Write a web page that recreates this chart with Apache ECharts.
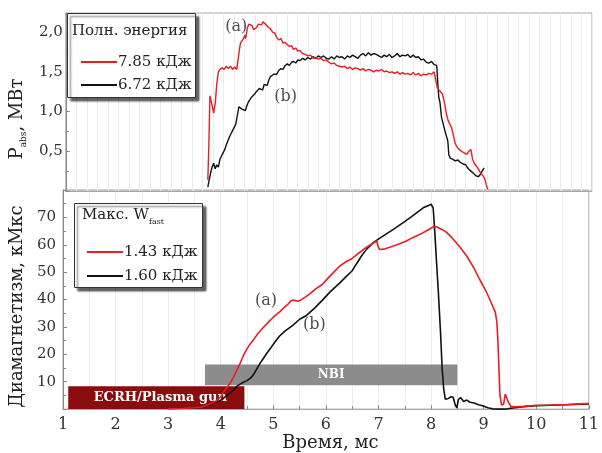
<!DOCTYPE html>
<html>
<head>
<meta charset="utf-8">
<script src="https://cdn.jsdelivr.net/npm/echarts@6/dist/echarts.min.js"></script>
<style>
  html, body { margin: 0; padding: 0; background: #fff; }
  #chart { width: 602px; height: 453px; }
</style>
</head>
<body>
<div id="chart"></div>
<script>
const FONT = "'DejaVu Serif', 'Liberation Serif', serif";

// Absorbed power P_abs (MW), shot (a): 7.85 kJ total energy
const powerTimeA = [3.70,3.72,3.74,3.76,3.79,3.81,3.84,3.87,3.90,3.93,3.97,4.01,4.05,4.09,4.13,4.17,4.21,4.25,4.28,4.30,4.32,4.35,4.38,4.40,4.42,4.45,4.48,4.51,4.54,4.57,4.60,4.63,4.66,4.69,4.72,4.75,4.78,4.81,4.85,4.89,4.93,4.97,5.01,5.05,5.09,5.13,5.17,5.21,5.25,5.29,5.33,5.37,5.41,5.45,5.50,5.55,5.60,5.65,5.70,5.75,5.80,5.85,5.90,5.95,6.00,6.05,6.10,6.15,6.20,6.25,6.30,6.35,6.40,6.45,6.50,6.55,6.60,6.65,6.70,6.75,6.80,6.85,6.90,6.95,7.00,7.05,7.10,7.15,7.20,7.25,7.30,7.35,7.40,7.45,7.50,7.55,7.60,7.65,7.70,7.75,7.80,7.85,7.90,7.95,8.00,8.03,8.06,8.09,8.12,8.16,8.20,8.24,8.27,8.30,8.33,8.36,8.40,8.44,8.48,8.52,8.57,8.62,8.66,8.70,8.73,8.77,8.82,8.87,8.92,8.96,8.99,9.02];
const powerA = [0.14,0.60,1.20,1.22,1.05,0.98,1.10,1.35,1.50,1.53,1.55,1.53,1.57,1.54,1.57,1.53,1.56,1.53,1.55,1.78,1.86,1.88,1.92,1.96,1.92,2.05,2.10,2.12,2.08,2.03,2.02,2.06,2.10,2.12,2.09,2.13,2.11,2.09,2.06,2.04,2.00,1.99,1.93,1.90,1.92,1.86,1.87,1.84,1.82,1.83,1.78,1.80,1.76,1.77,1.73,1.72,1.70,1.71,1.67,1.68,1.66,1.67,1.64,1.65,1.62,1.60,1.61,1.58,1.57,1.56,1.57,1.54,1.56,1.53,1.55,1.54,1.52,1.54,1.51,1.53,1.52,1.50,1.52,1.51,1.53,1.50,1.51,1.49,1.50,1.48,1.50,1.47,1.49,1.47,1.48,1.46,1.49,1.46,1.48,1.45,1.47,1.46,1.48,1.47,1.50,1.48,1.30,1.27,1.25,1.22,1.10,0.95,0.88,0.84,0.80,0.72,0.60,0.55,0.52,0.50,0.48,0.46,0.50,0.52,0.40,0.34,0.30,0.24,0.20,0.16,0.08,0.02];

// Absorbed power P_abs (MW), shot (b): 6.72 kJ total energy
const powerTimeB = [3.70,3.72,3.75,3.78,3.81,3.84,3.87,3.90,3.93,3.96,3.99,4.02,4.05,4.08,4.11,4.14,4.17,4.20,4.23,4.26,4.29,4.32,4.35,4.38,4.41,4.44,4.47,4.50,4.53,4.56,4.59,4.62,4.65,4.68,4.71,4.74,4.77,4.80,4.83,4.86,4.89,4.92,4.95,4.98,5.01,5.05,5.09,5.13,5.17,5.21,5.25,5.29,5.33,5.37,5.41,5.45,5.50,5.55,5.60,5.65,5.70,5.75,5.80,5.85,5.90,5.95,6.00,6.05,6.10,6.15,6.20,6.25,6.30,6.35,6.40,6.45,6.50,6.55,6.60,6.65,6.70,6.75,6.80,6.85,6.90,6.95,7.00,7.05,7.10,7.15,7.20,7.25,7.30,7.35,7.40,7.45,7.50,7.55,7.60,7.65,7.70,7.75,7.80,7.85,7.90,7.95,8.00,8.05,8.07,8.09,8.11,8.14,8.17,8.20,8.23,8.26,8.28,8.31,8.35,8.40,8.45,8.50,8.55,8.60,8.65,8.70,8.75,8.80,8.84,8.88,8.92,8.95];
const powerB = [0.05,0.12,0.22,0.30,0.35,0.28,0.33,0.30,0.40,0.44,0.48,0.52,0.58,0.63,0.68,0.72,0.76,0.80,0.84,0.95,1.06,1.08,1.03,1.05,1.01,1.07,1.12,1.15,1.18,1.16,1.22,1.25,1.23,1.29,1.30,1.27,1.34,1.35,1.33,1.40,1.44,1.42,1.47,1.49,1.47,1.52,1.54,1.53,1.58,1.60,1.58,1.62,1.63,1.61,1.65,1.64,1.67,1.65,1.68,1.66,1.69,1.67,1.70,1.68,1.70,1.67,1.66,1.69,1.66,1.70,1.68,1.69,1.66,1.70,1.68,1.71,1.69,1.67,1.71,1.73,1.70,1.74,1.71,1.73,1.72,1.70,1.68,1.71,1.69,1.72,1.68,1.70,1.73,1.69,1.71,1.70,1.72,1.68,1.71,1.68,1.69,1.65,1.66,1.62,1.61,1.63,1.59,1.58,1.35,1.17,1.12,0.93,0.85,0.77,0.70,0.63,0.45,0.41,0.40,0.38,0.39,0.36,0.34,0.33,0.28,0.25,0.22,0.19,0.18,0.21,0.26,0.29];

// Diamagnetic signal (kMx), shot (a): max W_fast 1.43 kJ
const diaTimeA = [3.00,3.30,3.50,3.62,3.75,3.85,3.93,4.00,4.05,4.12,4.18,4.24,4.30,4.37,4.43,4.50,4.56,4.62,4.70,4.80,4.88,4.96,5.04,5.12,5.20,5.28,5.33,5.37,5.42,5.47,5.52,5.60,5.69,5.80,5.93,6.05,6.15,6.25,6.38,6.50,6.63,6.78,6.90,6.97,6.99,7.02,7.10,7.20,7.35,7.53,7.65,7.80,7.95,8.05,8.10,8.20,8.29,8.40,8.55,8.68,8.80,8.92,9.04,9.14,9.22,9.25,9.27,9.29,9.31,9.34,9.38,9.41,9.44,9.47,9.52,9.60,9.80,10.00,10.30,10.60,10.80,11.00];
const diaA = [0.2,0.3,0.5,0.7,1.5,2.3,3.2,4.5,6.1,8.0,9.5,11.5,14.0,16.8,19.5,22.0,23.8,25.2,27.4,29.6,31.2,32.8,34.2,35.5,37.0,38.3,39.5,39.8,39.6,39.4,39.8,40.8,42.0,43.8,45.5,48.0,50.0,52.0,53.8,55.0,57.0,59.2,60.6,61.4,59.5,58.3,58.4,59.0,60.0,61.4,62.6,63.9,65.5,66.6,66.6,65.7,64.6,62.5,59.2,55.8,52.0,47.5,43.3,39.0,35.5,32.0,25.3,15.0,5.0,1.5,1.8,5.5,6.0,2.5,1.0,0.8,1.0,1.4,1.5,1.7,1.9,2.0];

// Diamagnetic signal (kMx), shot (b): max W_fast 1.60 kJ
const diaTimeB = [3.00,3.30,3.50,3.62,3.80,3.92,4.00,4.12,4.24,4.31,4.40,4.50,4.56,4.62,4.68,4.75,4.81,4.87,4.94,5.02,5.12,5.22,5.37,5.50,5.63,5.78,5.93,6.08,6.25,6.38,6.50,6.58,6.68,6.78,6.90,7.04,7.15,7.29,7.45,7.61,7.75,7.85,7.95,8.00,8.04,8.07,8.10,8.14,8.18,8.21,8.24,8.27,8.33,8.38,8.42,8.46,8.49,8.52,8.56,8.62,8.68,8.74,8.82,8.90,8.98,9.08,9.17,9.30,9.45,9.60,9.80,10.00,10.40,10.70,11.00];
const diaB = [0.2,0.3,0.4,0.7,1.5,2.5,3.2,5.0,6.8,8.4,9.5,10.4,11.2,12.5,14.5,16.8,18.5,20.2,22.0,24.2,26.7,28.5,30.6,32.8,34.2,36.8,39.7,42.8,45.8,48.3,50.5,53.0,56.0,58.5,60.8,62.6,64.0,65.7,67.8,70.0,72.0,73.5,74.3,74.8,73.5,65.0,55.0,42.2,28.0,15.0,7.5,3.6,3.9,4.5,4.3,1.5,0.5,3.5,4.2,2.8,3.3,2.5,2.2,1.6,1.2,0.5,0.1,0.0,0.1,0.5,1.0,1.2,1.5,1.7,1.9];

// Heating phases: time spans (ms) and the band each bar occupies on the diamagnetism scale
const ecrhSpan = [1.1, 4.45];
const ecrhBand = [0, 8.3];
const nbiSpan = [3.7, 8.5];
const nbiBand = [8.7, 16.3];

// Axis ticks
const timeTicks = [1, 2, 3, 4, 5, 6, 7, 8, 9, 10, 11];
const powerTicks = [0.5, 1.0, 1.5, 2.0];
const diaTicks = [10, 20, 30, 40, 50, 60, 70];

const zip = (t, v) => t.map((x, i) => [x, v[i]]);

const RED = '#ec1c24';
const BLACK = '#111111';
const FRAME = '#a8a8a8';
const VGRID = '#ececec';

const chart = echarts.init(document.getElementById('chart'), null, { renderer: 'canvas' });

const onTick = (ticks, v) => ticks.some(t => Math.abs(t - v) < 1e-6);

const xAxisCommon = {
  type: 'value',
  min: timeTicks[0],
  max: timeTicks[timeTicks.length - 1],
  interval: 1,
  axisLine: { show: true, lineStyle: { color: FRAME, width: 1 } },
  splitLine: { show: true, lineStyle: { color: VGRID, width: 1 } },
  minorTick: { show: true, splitNumber: 2, length: 3, lineStyle: { color: '#888' } },
  minorSplitLine: { show: true, lineStyle: { color: VGRID, width: 1 } }
};

const legendCommon = {
  z: 10, orient: 'vertical', icon: 'rect',
  itemWidth: 36, itemHeight: 2,
  textStyle: { fontFamily: FONT, fontSize: 15, color: '#222', lineHeight: 18, padding: [0, 0, 0, -4] }
};

const option = {
  backgroundColor: '#fff',
  animation: false,
  textStyle: { fontFamily: FONT },
  grid: [
    { left: 61, right: 10, top: 13, height: 178, show: true, borderColor: FRAME, borderWidth: 1, backgroundColor: 'transparent' },
    { left: 61, right: 10, top: 190, bottom: 41, show: true, borderColor: FRAME, borderWidth: 1, backgroundColor: 'transparent' }
  ],
  xAxis: [
    Object.assign({}, xAxisCommon, {
      gridIndex: 0,
      axisTick: { show: false },
      minorTick: { show: false },
      axisLabel: { show: false }
    }),
    Object.assign({}, xAxisCommon, {
      gridIndex: 1,
      axisTick: { show: true, inside: true, length: 4, lineStyle: { color: '#888' } },
      minorTick: { show: true, splitNumber: 2, length: 3, lineStyle: { color: '#888' } },
      axisLabel: {
        show: true, fontFamily: FONT, fontSize: 16, color: '#333', margin: 8,
        formatter: v => onTick(timeTicks, v) ? String(v) : ''
      },
      name: 'Время, мс',
      nameLocation: 'middle',
      nameGap: 21,
      nameTextStyle: { fontFamily: FONT, fontSize: 18, color: '#222', padding: [0, 0, 0, 9] }
    })
  ],
  yAxis: [
    {
      type: 'value', gridIndex: 0, min: 0, max: 2.24, interval: 0.5,
      axisLine: { show: true, lineStyle: { color: '#8a8a8a', width: 1 } },
      axisTick: { show: true, inside: true, length: 4, lineStyle: { color: '#888' } },
      minorTick: { show: true, splitNumber: 2, length: 3, lineStyle: { color: '#888' } },
      splitLine: { show: false },
      axisLabel: {
        fontFamily: FONT, fontSize: 15, color: '#333', margin: 3,
        formatter: v => onTick(powerTicks, v) ? v.toFixed(1).replace('.', ',') : ''
      },
      name: '{m|P}{s|abs}{m|, МВт}',
      nameLocation: 'middle',
      nameGap: 28,
      nameTextStyle: {
        color: '#222',
        padding: [0, 34, 0, 0],
        rich: {
          m: { fontFamily: FONT, fontSize: 18, color: '#222', lineHeight: 22 },
          s: { fontFamily: FONT, fontSize: 9, color: '#222', lineHeight: 10, verticalAlign: 'bottom' }
        }
      }
    },
    {
      type: 'value', gridIndex: 1, min: 0, max: 80, interval: 10,
      axisLine: { show: true, lineStyle: { color: '#8a8a8a', width: 1 } },
      axisTick: { show: true, inside: true, length: 4, lineStyle: { color: '#888' } },
      minorTick: { show: true, splitNumber: 2, length: 3, lineStyle: { color: '#888' } },
      splitLine: { show: false },
      axisLabel: {
        fontFamily: FONT, fontSize: 15, color: '#333', margin: 7,
        formatter: v => onTick(diaTicks, v) ? String(v) : ''
      },
      name: 'Диамагнетизм, кМкс',
      nameLocation: 'middle',
      nameGap: 29,
      nameTextStyle: { fontFamily: FONT, fontSize: 18, color: '#222', padding: [0, 14, 0, 0] }
    }
  ],
  legend: [
    Object.assign({}, legendCommon, { left: 76, top: 48, itemGap: 5, data: ['7.85 кДж', '6.72 кДж'] }),
    Object.assign({}, legendCommon, { left: 82, top: 238, itemGap: 6, data: ['1.43 кДж', '1.60 кДж'] })
  ],
  graphic: [
    {
      type: 'rect', left: 67, top: 13, z: 5,
      shape: { width: 128, height: 84 },
      style: { fill: '#fff', stroke: '#333', lineWidth: 1, shadowColor: 'rgba(0,0,0,0.6)', shadowBlur: 2, shadowOffsetX: 3, shadowOffsetY: 3 }
    },
    {
      type: 'text', left: 72, top: 24, z: 6,
      style: { text: 'Полн. энергия', font: "15px 'DejaVu Serif'", fill: '#222' }
    },
    {
      type: 'rect', left: 74, top: 203, z: 5,
      shape: { width: 128, height: 84 },
      style: { fill: '#fff', stroke: '#333', lineWidth: 1, shadowColor: 'rgba(0,0,0,0.6)', shadowBlur: 2, shadowOffsetX: 3, shadowOffsetY: 3 }
    },
    {
      type: 'text', left: 82, top: 208, z: 6,
      style: {
        text: '{m|Макс. W}{s|fast}',
        rich: {
          m: { fontFamily: FONT, fontSize: 15, fill: '#222', color: '#222', lineHeight: 20 },
          s: { fontFamily: FONT, fontSize: 8, fill: '#222', color: '#222', lineHeight: 8, verticalAlign: 'bottom' }
        }
      }
    }
  ],
  series: [
    // heating phase bars, drawn under the traces
    {
      name: 'phases', type: 'line', xAxisIndex: 1, yAxisIndex: 1, z: 1,
      data: [], silent: true,
      markArea: {
        silent: true,
        data: [
          [
            {
              name: 'ECRH/Plasma gun',
              xAxis: ecrhSpan[0], yAxis: ecrhBand[0],
              itemStyle: { color: '#8a0c0c', opacity: 1 },
              label: { show: true, position: 'inside', color: '#fff', fontFamily: FONT, fontWeight: 'bold', fontSize: 13, offset: [4, 0] }
            },
            { xAxis: ecrhSpan[1], yAxis: ecrhBand[1] }
          ],
          [
            {
              name: 'NBI',
              xAxis: nbiSpan[0], yAxis: nbiBand[0],
              itemStyle: { color: '#8c8c8c', opacity: 1 },
              label: { show: true, position: 'inside', color: '#fff', fontFamily: FONT, fontWeight: 'bold', fontSize: 12 }
            },
            { xAxis: nbiSpan[1], yAxis: nbiBand[1] }
          ]
        ]
      }
    },
    {
      name: '6.72 кДж', type: 'line', xAxisIndex: 0, yAxisIndex: 0, z: 3,
      data: zip(powerTimeB, powerB), symbol: 'none', color: BLACK,
      lineStyle: { color: BLACK, width: 1.4 }
    },
    {
      name: '7.85 кДж', type: 'line', xAxisIndex: 0, yAxisIndex: 0, z: 4,
      data: zip(powerTimeA, powerA), symbol: 'none', color: RED,
      lineStyle: { color: RED, width: 1.4 }
    },
    {
      name: '1.60 кДж', type: 'line', xAxisIndex: 1, yAxisIndex: 1, z: 3,
      data: zip(diaTimeB, diaB), symbol: 'none', color: BLACK,
      lineStyle: { color: BLACK, width: 1.6 }
    },
    {
      name: '1.43 кДж', type: 'line', xAxisIndex: 1, yAxisIndex: 1, z: 4,
      data: zip(diaTimeA, diaA), symbol: 'none', color: RED,
      lineStyle: { color: RED, width: 1.6 }
    },
    // shot tags
    {
      name: 'tagsTop', type: 'scatter', xAxisIndex: 0, yAxisIndex: 0, z: 6,
      symbolSize: 1, itemStyle: { color: 'transparent' }, silent: true,
      data: [
        { value: [4.24, 2.06], label: { formatter: '(a)' } },
        { value: [5.18, 1.18], label: { formatter: '(b)' } }
      ],
      label: { show: true, position: 'inside', fontFamily: FONT, fontSize: 16, color: '#222' }
    },
    {
      name: 'tagsBottom', type: 'scatter', xAxisIndex: 1, yAxisIndex: 1, z: 6,
      symbolSize: 1, itemStyle: { color: 'transparent' }, silent: true,
      data: [
        { value: [4.86, 39.6], label: { formatter: '(a)' } },
        { value: [5.78, 30.6], label: { formatter: '(b)' } }
      ],
      label: { show: true, position: 'inside', fontFamily: FONT, fontSize: 16, color: '#222' }
    }
  ]
};

chart.setOption(option);
</script>
</body>
</html>
